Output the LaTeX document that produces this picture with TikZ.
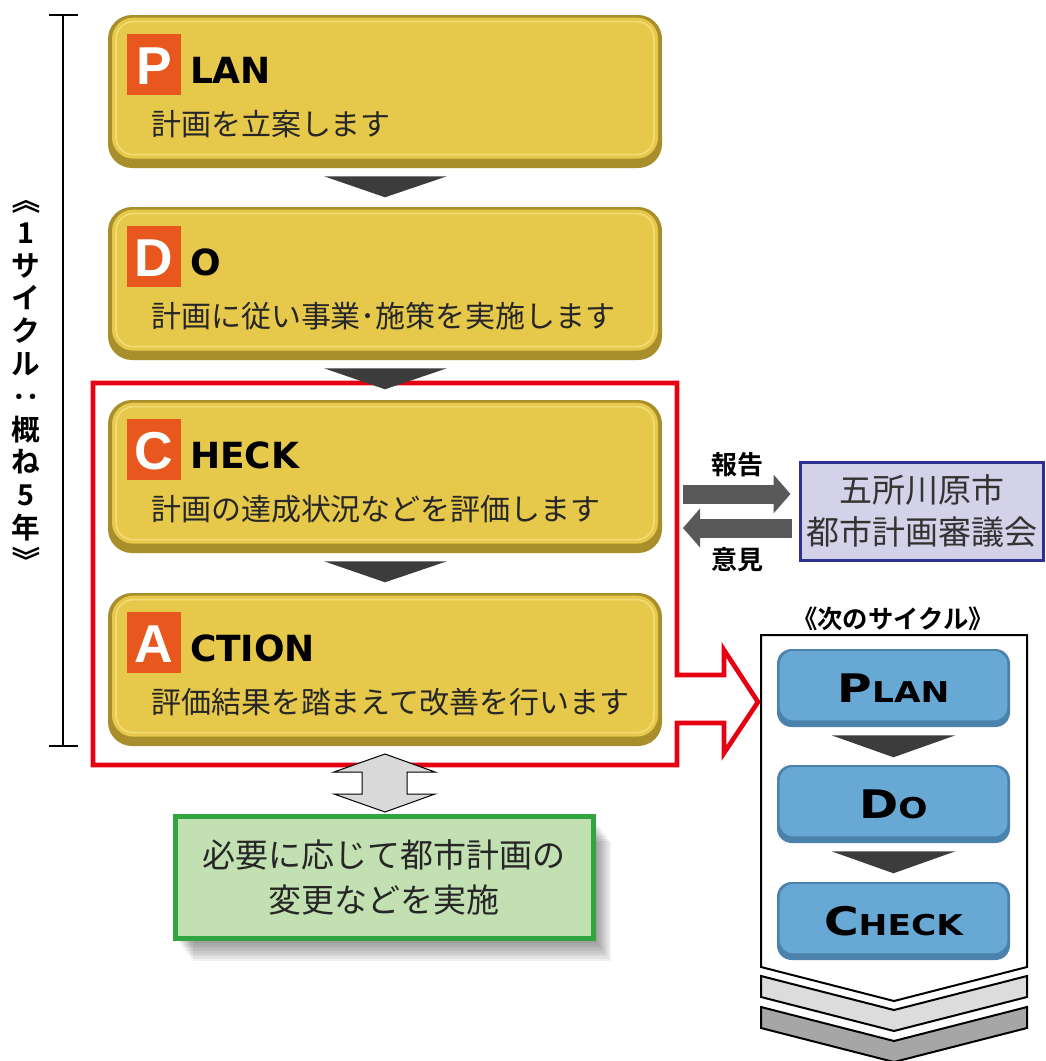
\documentclass[tikz,border=0pt]{standalone}
\usepackage{fontspec}
\usepackage{graphicx}
\usetikzlibrary{calc,arrows.meta}
\newfontfamily\jp{Noto Sans CJK JP}[BoldFont={Noto Sans CJK JP Bold}]
\newfontfamily\lat{DejaVu Sans}
\newfontfamily\latb{Liberation Sans}
\definecolor{goldface}{HTML}{E6C84A}
\definecolor{goldedge}{HTML}{A88F2C}
\definecolor{goldlight}{HTML}{F2DC78}
\definecolor{initial}{HTML}{E8571E}
\definecolor{frame}{HTML}{E60012}
\definecolor{tri}{HTML}{3C3C3C}
\definecolor{arrowgray}{HTML}{595959}
\definecolor{lavender}{HTML}{D4D2E8}
\definecolor{navy}{HTML}{2E3192}
\definecolor{blueface}{HTML}{67A8D4}
\definecolor{blueedge}{HTML}{4A82AB}
\definecolor{leaf}{HTML}{C2E0B2}
\definecolor{leafedge}{HTML}{33A540}
\definecolor{band1}{HTML}{DCDCDC}
\definecolor{band2}{HTML}{A6A6A6}
\tikzset{
  goldbox/.style={rectangle, rounded corners=18pt, minimum width=415.5pt,
    minimum height=114.75pt, fill=goldedge, inner sep=0pt,
    path picture={
      \fill[goldface, rounded corners=16pt]
        ([xshift=3pt,yshift=-2pt]path picture bounding box.north west) rectangle
        ([xshift=-3pt,yshift=7pt]path picture bounding box.south east);
      \draw[goldlight, line width=1.2pt, rounded corners=13pt]
        ([xshift=6pt,yshift=-5pt]path picture bounding box.north west) rectangle
        ([xshift=-6pt,yshift=10pt]path picture bounding box.south east);}},
  bluebox/.style={rectangle, rounded corners=11pt, minimum width=174.75pt,
    minimum height=58.5pt, fill=blueedge, inner sep=0pt,
    path picture={
      \fill[blueface, rounded corners=10pt]
        ([xshift=2pt,yshift=-1.5pt]path picture bounding box.north west) rectangle
        ([xshift=-2pt,yshift=5pt]path picture bounding box.south east);}},
  initbox/.style={fill=initial, text=white, minimum width=40.5pt,
    minimum height=45.75pt, inner sep=0pt, text height=29.25pt, text depth=0pt,
    font=\latb\bfseries\fontsize{40}{40}\selectfont},
  restword/.style={inner sep=0pt, font=\lat\bfseries\fontsize{27}{27}\selectfont},
  subline/.style={inner sep=0pt, text=black!85, font=\jp\fontsize{22.5}{27}\selectfont},
  chevtri/.style={fill=tri},
  blockarr/.style={draw=arrowgray, line width=14.25pt,
    -{Triangle[width=28.5pt,length=12.75pt]}},
  lbl/.style={inner sep=0pt, font=\jp\bfseries\fontsize{19.5}{21}\selectfont},
  captext/.style={inner sep=0pt, font=\lat\bfseries}
}
\newcommand\capword[2]{\scalebox{1.2}[1]{{\fontsize{29.5}{29.5}\selectfont #1}{\fontsize{21.5}{21.5}\selectfont #2}}}
\newcommand\turned[1]{\rotatebox[origin=c]{-90}{#1}}
\begin{document}
\begin{tikzpicture}[x=0.75pt, y=-0.75pt]
  \useasboundingbox[fill=white] (0,0) rectangle (1046,1061);

  % bracket and vertical label
  \draw[line width=1.5pt] (63,15) -- (63,746);
  \draw[line width=1.5pt] (49,15) -- (78,15) (49,746) -- (78,746);
  \node[inner sep=0pt, align=center, font=\jp\bfseries\fontsize{21.5}{24.6}\selectfont]
    (span) at (26,380) {\turned{《}\\1\\サ\\イ\\ク\\ル\\\turned{：}\\概\\ね\\5\\年\\\turned{》}};

  % red frame round CHECK and ACTION, with its arrow
  \draw[frame, line width=3.5pt, fill=white] (93,383) -- (677,383) -- (677,675)
    -- (724,675) -- (724,650) -- (758,702) -- (724,753) -- (724,723) -- (677,723)
    -- (677,765) -- (93,765) -- cycle;

  % the four phases
  \foreach \n/\y/\a/\b/\t in {plan/91.5/P/LAN/計画を立案します,
      do/283.5/D/O/計画に従い事業･施策を実施します,
      check/476.5/C/HECK/計画の達成状況などを評価します,
      action/669.5/A/CTION/評価結果を踏まえて改善を行います}{
    \node[goldbox] (\n) at (385,\y) {};
    \node[initbox, anchor=north west] (\n-i) at ($(\n.north west)+(19,19)$) {\a};
    \node[restword, anchor=base west] (\n-r) at ($(\n.north west)+(82,69)$) {\b};
    \node[subline, anchor=base west] (\n-t) at ($(\n.north west)+(43,121)$) {\t};
  }
  \foreach \u in {plan,do,check}
    \fill[chevtri] ($(\u.south)+(-61,8)$) -- ($(\u.south)+(62,8)$)
      -- ($(\u.south)+(0,29)$) -- cycle;

  % council
  \node[draw=navy, line width=2.25pt, fill=lavender, minimum width=182.25pt,
    minimum height=73.5pt, align=center, text=black!80,
    font=\jp\fontsize{24.75}{31.5}\selectfont] (council) at (921.5,511)
    {五所川原市\\都市計画審議会};
  \coordinate (rep) at (683,494);
  \coordinate (opi) at (683,528);
  \draw[blockarr, shorten >=6pt] (rep) -- (rep -| council.west);
  \draw[blockarr, shorten <=5pt] (opi -| council.west) -- (opi);
  \node[lbl] (rep-l) at (737,465) {報告};
  \node[lbl] (opi-l) at (737,560) {意見};

  % next cycle
  \node[lbl, font=\jp\bfseries\fontsize{19}{20}\selectfont] (next-l) at (893,619) {《次のサイクル》};
  \draw[line width=1.5pt, fill=white] (761,635) -- (1027,635) -- (1027,967)
    -- (894,1001) -- (761,967) -- cycle;
  \draw[line width=1.5pt, fill=band1] (761,976) -- (894,1010) -- (1027,976)
    -- (1027,997) -- (894,1031) -- (761,997) -- cycle;
  \draw[line width=1.5pt, fill=band2] (761,1007) -- (894,1041) -- (1027,1007)
    -- (1027,1028) -- (894,1062) -- (761,1028) -- cycle;
  \foreach \n/\y/\a/\b in {nplan/688/P/LAN, ndo/804/D/O, ncheck/921/C/HECK}{
    \node[bluebox] (\n) at (893.5,\y) {};
    \node[captext] (\n-t) at (\n) {\capword{\a}{\b}};
  }
  \foreach \u in {nplan,ndo}
    \fill[chevtri] ($(\u.south)+(-62,8)$) -- ($(\u.south)+(62,8)$)
      -- ($(\u.south)+(0,30)$) -- cycle;

  % change of the city plan
  \foreach \s in {2,4,...,18}
    \fill[black, opacity=0.055] (175+\s,818+1.3*\s) rectangle (593+\s,938+1.3*\s);
  \node[draw=leafedge, line width=3.75pt, fill=leaf, minimum width=313.5pt,
    minimum height=91.5pt, align=center, text=black!85,
    font=\jp\fontsize{24.75}{33.75}\selectfont] (change) at (384,877)
    {必要に応じて都市計画の\\変更などを実施};
  \draw[fill=black!15, line width=0.75pt] (385,754) -- (435,772) -- (407,772)
    -- (407,794) -- (435,794) -- (385,812) -- (334,794) -- (362,794)
    -- (362,772) -- (334,772) -- cycle;
\end{tikzpicture}
\end{document}
